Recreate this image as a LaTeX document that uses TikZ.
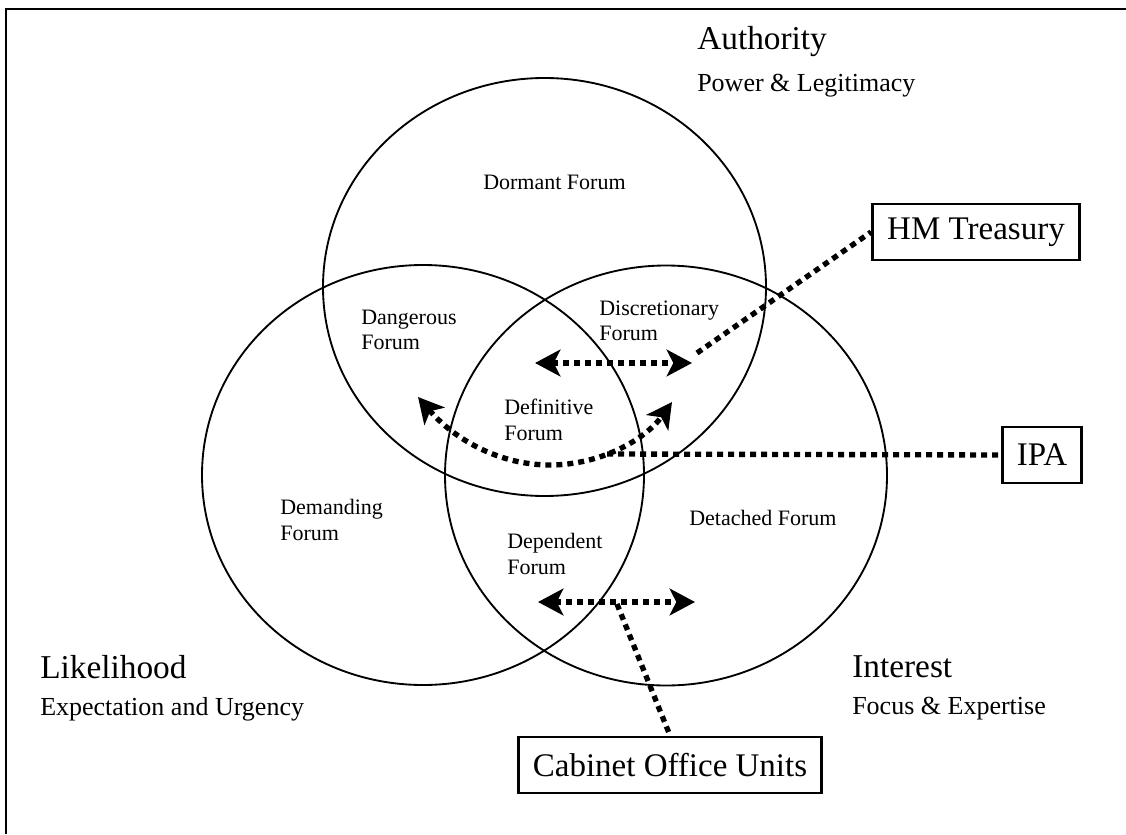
\documentclass[tikz,border=0pt]{standalone}
\usepackage{fontspec}
\setmainfont{Liberation Serif}
\usetikzlibrary{arrows.meta}

\tikzset{
  forum/.style={draw, line width=1.4pt},
  region/.style={anchor=west, inner sep=0pt, align=left, font=\fontsize{16.5}{19}\selectfont},
  heading/.style={anchor=west, inner sep=0pt, font=\fontsize{25}{28}\selectfont},
  subheading/.style={anchor=west, inner sep=0pt, font=\fontsize{19.5}{22}\selectfont},
  agency/.style={draw, line width=2.2pt, inner xsep=11pt, minimum height=42pt, font=\fontsize{24.75}{28}\selectfont},
  link/.style={line width=4pt, dash pattern=on 4.5pt off 3.75pt},
  twoway/.style={link, {Stealth[length=19pt,width=20pt,inset=5pt]}-{Stealth[length=19pt,width=20pt,inset=5pt]}}
}

\begin{document}
\begin{tikzpicture}[x=0.75pt,y=0.75pt,yscale=-1,xscale=1]
			\useasboundingbox (0,0) rectangle (1126,834);

			%Frame
			\draw [line width=2.2pt] (6,834) -- (6,9) -- (1126,9);

			%Shape: Ellipse [authority]
			\draw [forum] (544.5,287) ellipse (221.5 and 209);
			%Shape: Ellipse [likelihood]
			\draw [forum] (423,475) ellipse (221 and 210);
			%Shape: Ellipse [interest]
			\draw [forum] (666,475.5) ellipse (221 and 210);

			% Text Node
			\node [region] (dormant) at (483,182) {Dormant Forum};
			% Text Node
			\node [region] (dangerous) at (361,330) {Dangerous\\Forum};
			% Text Node
			\node [region] (discretionary) at (599,321) {Discretionary\\Forum};
			% Text Node
			\node [region] (definitive) at (504,420) {Definitive\\Forum};
			% Text Node
			\node [region] (demanding) at (280,520) {Demanding\\Forum};
			% Text Node
			\node [region] (dependent) at (507,554) {Dependent\\Forum};
			% Text Node
			\node [region] (detached) at (689,518) {Detached Forum};

			% Text Node
			\node [heading] (authority) at (697,42) {Authority};
			\node [subheading] (power) at (697,86) {Power \& Legitimacy};
			% Text Node
			\node [heading] (likelihood) at (40,667) {Likelihood};
			\node [subheading] (expectation) at (40,709) {Expectation and Urgency};
			% Text Node
			\node [heading] (interest) at (852,667) {Interest};
			\node [subheading] (focus) at (852,709) {Focus \& Expertise};

			% Boxes
			\node [agency] (treasury) at (976,232) {HM Treasury};
			\node [agency] (ipa) at (1042,455) {IPA};
			\node [agency] (cabinet) at (670,765) {Cabinet Office Units};

			% Arrow ends
			\coordinate (topl) at (535,363);
			\coordinate (topr) at (692,363);
			\coordinate (curvel) at (418,397);
			\coordinate (curvem) at (550,465);
			\coordinate (curver) at (672,402);
			\coordinate (lowl) at (538,602);
			\coordinate (lowr) at (695,602);
			\coordinate (treasuryfoot) at (697,353);
			\coordinate (ipafoot) at (607,454);
			\coordinate (cabinetfoot) at (617,604);

			%Arrows
			\draw [twoway] (topl) -- (topr);
			\draw [twoway] (curvel) .. controls (455,440) and (500,465) .. (curvem) .. controls (600,465) and (645,440) .. (curver);
			\draw [twoway] (lowl) -- (lowr);

			%Straight Lines
			\draw [link] (treasuryfoot) -- (treasury.west);
			\draw [link] (ipafoot) -- (ipa.west);
			\draw [link] (cabinetfoot) -- (cabinet.north);

		\end{tikzpicture}
\end{document}
